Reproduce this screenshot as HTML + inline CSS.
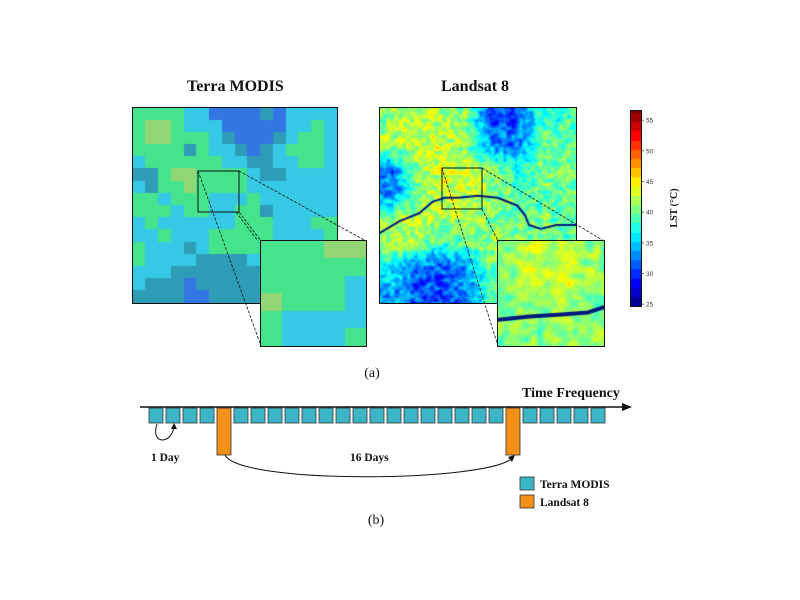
<!DOCTYPE html>
<html><head><meta charset="utf-8">
<style>
html,body{margin:0;padding:0;background:#fff;}
#wrap{position:relative;width:800px;height:600px;overflow:hidden;font-family:"Liberation Serif",serif;}
.t{position:absolute;font-weight:bold;color:#111;white-space:nowrap;}
canvas{position:absolute;outline:1px solid #111;}
.ins{z-index:3;}
</style></head>
<body>
<div id="wrap">
<div class="t" style="left:187px;top:78px;font-size:16px;">Terra MODIS</div>
<div class="t" style="left:441px;top:78px;font-size:16px;">Landsat 8</div>
<canvas id="mod" width="204" height="195" style="left:133px;top:108px;"></canvas>
<canvas id="lan" width="196" height="195" style="left:380px;top:108px;"></canvas>
<canvas id="cb" width="10" height="195" style="left:631px;top:111px;"></canvas>
<svg id="ov" width="800" height="600" style="position:absolute;left:0;top:0;z-index:2"></svg>
<canvas id="modi" class="ins" width="105" height="105" style="left:261px;top:241px;"></canvas>
<canvas id="lani" class="ins" width="106" height="105" style="left:498px;top:241px;"></canvas>
</div>
<script>
// ---- data ----
const modisGrid = [
"GGGGCCBBBBTBCCCC","GYYGCCCBBBBBCCGC","GYYGGGCTBBBTCGGC","GGGGTGCCTBTCGGGC",
"CGGGGGGCCTTCCGGC","TTGYYGGGGCTTCCCC","CTGGYGGGGCCCCCCC","GGCGGGCCCGCCCCCC",
"GGGCGGCCGGTCCCCC","CGCCCCCCGGGCCCGG","CCGCCCGGGGGCCCCG","GCCCTCGGGGCCCCCC",
"GCCCCTTTTCCCCCCC","CCCTTTTTTTCCCCCC","CTTTBTTTTTCCCCCC","TTTTBBTTTTCCCCCC"];
const modisInset = ["GGGYY","GGGGG","GGGGC","YGGGC","GCCCC","GCCCG"];
const landsatGrid = [
[41,42,42,41,31,31,38,39],[42,43,43,41,33,32,40,39],[32,41,43,43,41,37,40,40],
[33,40,43,43,41,40,40,40],[41,42,42,42,40,40,40,39],[42,42,39,40,42,40,40,40],
[37,32,31,33,40,42,40,40],[34,31,31,33,38,40,40,40]];
const landsatInset = [[41,43,43,41],[41,42,43,42],[41,41,42,41],[40,41,41,41]];
const riverMain = [[0,0.64],[0.1,0.58],[0.2,0.54],[0.27,0.48],[0.33,0.46],[0.4,0.46],[0.5,0.45],[0.6,0.46],[0.7,0.5],[0.74,0.55],[0.76,0.6],[0.82,0.62],[0.9,0.6],[1,0.6]];
const riverInset = [[0,0.75],[0.3,0.72],[0.6,0.7],[0.85,0.68],[1,0.63]];
const cbTicks = [25,30,35,40,45,50,55];
const cbMin = 24.7, cbMax = 56.5;
const slots = ["M","M","M","M","L","M","M","M","M","M","M","M","M","M","M","M","M","M","M","M","M","L","M","M","M","M","M"];

const pal = {G:"#44e38c",Y:"#92d676",C:"#36c9e6",T:"#2e9cb6",B:"#3276e4"};
function jet(v){let t=(v-cbMin)/(cbMax-cbMin);t=Math.max(0,Math.min(1,t));
 const c=x=>Math.round(255*Math.max(0,Math.min(1,x)));
 return [c(1.5-Math.abs(4*t-3)),c(1.5-Math.abs(4*t-2)),c(1.5-Math.abs(4*t-1))];}
function drawCat(id,grid){const cv=document.getElementById(id),g=cv.getContext('2d');
 const R=grid.length,C=grid[0].length,w=cv.width/C,h=cv.height/R;
 for(let r=0;r<R;r++)for(let c=0;c<C;c++){g.fillStyle=pal[grid[r][c]];g.fillRect(Math.floor(c*w),Math.floor(r*h),Math.ceil(w)+1,Math.ceil(h)+1);}}
drawCat('mod',modisGrid);drawCat('modi',modisInset);
function hash(x,y,s){let n=x*374761393+y*668265263+s*1442695041;n=(n^(n>>>13))*1274126177;n=n^(n>>>16);return (n&0xffff)/65535;}
function vnoise(x,y,sc,s){const fx=x/sc,fy=y/sc,ix=Math.floor(fx),iy=Math.floor(fy),dx=fx-ix,dy=fy-iy;
 const a=hash(ix,iy,s),b=hash(ix+1,iy,s),c=hash(ix,iy+1,s),d=hash(ix+1,iy+1,s);
 return (a*(1-dx)+b*dx)*(1-dy)+(c*(1-dx)+d*dx)*dy;}
function base(grid,u,v){const R=grid.length,C=grid[0].length;let fx=u*C-0.5,fy=v*R-0.5;
 fx=Math.max(0,Math.min(C-1.001,fx));fy=Math.max(0,Math.min(R-1.001,fy));
 const ix=Math.floor(fx),iy=Math.floor(fy),dx=fx-ix,dy=fy-iy;
 return (grid[iy][ix]*(1-dx)+grid[iy][ix+1]*dx)*(1-dy)+(grid[iy+1][ix]*(1-dx)+grid[iy+1][ix+1]*dx)*dy;}
function drawLST(id,grid,river,rw,sc,amp,seed){const cv=document.getElementById(id),g=cv.getContext('2d');
 const W=cv.width,H=cv.height,img=g.createImageData(W,H);
 for(let y=0;y<H;y++)for(let x=0;x<W;x++){
  let v=base(grid,x/W,y/H)+(vnoise(x,y,sc,seed)-0.5)*amp+(vnoise(x,y,sc/2,seed+7)-0.5)*amp*0.5;
  const c=jet(v),i=(y*W+x)*4;img.data[i]=c[0];img.data[i+1]=c[1];img.data[i+2]=c[2];img.data[i+3]=255;}
 g.putImageData(img,0,0);
 g.strokeStyle="#001a80";g.lineWidth=rw;g.lineJoin="round";g.lineCap="round";g.beginPath();
 river.forEach((p,i)=>{const X=p[0]*W,Y=p[1]*H;i?g.lineTo(X,Y):g.moveTo(X,Y);});g.stroke();}
drawLST('lan',landsatGrid,riverMain,2,4,6,1);
drawLST('lani',landsatInset,riverInset,4,7,5,3);
(function(){const cv=document.getElementById('cb'),g=cv.getContext('2d');
 for(let y=0;y<cv.height;y++){const v=cbMax-(y/cv.height)*(cbMax-cbMin);const c=jet(Math.round(v/1.5)*1.5);g.fillStyle=`rgb(${c})`;g.fillRect(0,y,10,1);}})();

const NS="http://www.w3.org/2000/svg",ov=document.getElementById('ov');
function el(t,a){const e=document.createElementNS(NS,t);for(const k in a)e.setAttribute(k,a[k]);ov.appendChild(e);return e;}
let e;
[[198,171,41,41,'modis-zoom-box'],[442,168,40,41,'landsat-zoom-box']].forEach(f=>{
 e=el('rect',{x:f[0],y:f[1],width:f[2],height:f[3],fill:'none',stroke:'#111','stroke-width':1});
 
 });
[[198,171,261,346],[239,171,366,241],[239,212,261,241],[236,212,258,241],[442,168,498,346],[482,168,604,241],[482,209,498,241]].forEach(l=>{
 e=el('line',{x1:l[0],y1:l[1],x2:l[2],y2:l[3],stroke:'#111','stroke-width':0.8,'stroke-dasharray':'3,1.5'});
 
 });
const cbY=v=>111+(cbMax-v)/(cbMax-cbMin)*195;
cbTicks.forEach(t=>{
 e=el('line',{x1:641,x2:644,y1:cbY(t),y2:cbY(t),stroke:'#333','stroke-width':0.7});
 
 
 e=el('text',{x:646,y:cbY(t)+2.5,'font-size':6.5,fill:'#333','font-family':'Liberation Sans, sans-serif'});e.textContent=t;
 
 });
e=el('text',{x:0,y:0,'font-size':10,'font-weight':'bold',fill:'#111','font-family':'Liberation Serif, serif',transform:'translate(677,208) rotate(-90)','text-anchor':'middle'});e.textContent='LST (°C)';


e=el('text',{x:372,y:377,'font-size':14,'text-anchor':'middle',fill:'#111','font-family':'Liberation Serif, serif'});e.textContent='(a)';


e=el('text',{x:376,y:524,'font-size':14,'text-anchor':'middle',fill:'#111','font-family':'Liberation Serif, serif'});e.textContent='(b)';


e=el('line',{x1:140,y1:407,x2:624,y2:407,stroke:'#111','stroke-width':1.5});


e=el('polygon',{points:'632,407 622,403 622,411',fill:'#111'});


e=el('text',{x:522,y:397,'font-size':14,'font-weight':'bold',fill:'#111','font-family':'Liberation Serif, serif'});e.textContent='Time Frequency';


const slotX=i=>149+i*17;
slots.forEach((s,i)=>{
 e=el('rect',{x:slotX(i),y:408,width:14,height:s==='L'?47:15,fill:s==='L'?'#f39017':'#3cb6c6',stroke:'#333','stroke-width':0.8});
 
 });
e=el('path',{d:'M157,424 C150,445 172,445 174,426',fill:'none',stroke:'#111','stroke-width':1});


e=el('polygon',{points:'174,423 171,429 177,429',fill:'#111'});


e=el('path',{d:'M225,455 C240,485 490,482 512,458',fill:'none',stroke:'#111','stroke-width':1});


e=el('polygon',{points:'515,455 508,457 512,462',fill:'#111'});


e=el('text',{x:151,y:461,'font-size':11.5,'font-weight':'bold',fill:'#111','font-family':'Liberation Serif, serif'});e.textContent='1 Day';


e=el('text',{x:350,y:461,'font-size':11.5,'font-weight':'bold',fill:'#111','font-family':'Liberation Serif, serif'});e.textContent='16 Days';


[['#3cb6c6','Terra MODIS',477,'legend-terra-modis'],['#f39017','Landsat 8',495,'legend-landsat-8']].forEach(l=>{
 e=el('rect',{x:520,y:l[2],width:14,height:13,fill:l[0],stroke:'#333','stroke-width':0.8});
 
 
 e=el('text',{x:540,y:l[2]+11,'font-size':11.5,'font-weight':'bold',fill:'#111','font-family':'Liberation Serif, serif'});e.textContent=l[1];
 
 });
</script>
</body></html>
